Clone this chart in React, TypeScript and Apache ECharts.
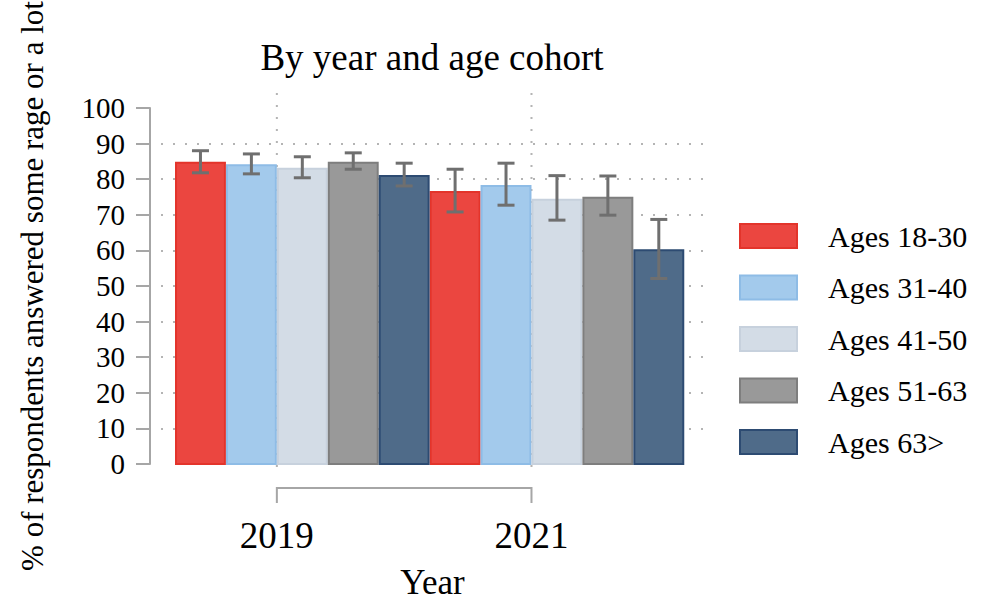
import React, { useEffect, useRef } from "react";
import * as echarts from "echarts";

// ---- data ----
const years = [2019, 2021];
const cohorts = ["Ages 18-30", "Ages 31-40", "Ages 41-50", "Ages 51-63", "Ages 63>"];

const ages18_30 = [84.9, 76.7];
const ages31_40 = [84.2, 78.4];
const ages41_50 = [83.2, 74.5];
const ages51_63 = [84.9, 75.1];
const ages63plus = [81.2, 60.3];

const ciLow18_30 = [81.8, 70.8];
const ciHigh18_30 = [88.0, 82.8];
const ciLow31_40 = [81.5, 72.7];
const ciHigh31_40 = [87.1, 84.5];
const ciLow41_50 = [80.4, 68.5];
const ciHigh41_50 = [86.3, 81.0];
const ciLow51_63 = [82.8, 69.9];
const ciHigh51_63 = [87.4, 80.9];
const ciLow63plus = [78.1, 52.1];
const ciHigh63plus = [84.5, 68.7];

const yTicks = [0, 10, 20, 30, 40, 50, 60, 70, 80, 90, 100];

const valuesByCohort = [ages18_30, ages31_40, ages41_50, ages51_63, ages63plus];
const lowsByCohort = [ciLow18_30, ciLow31_40, ciLow41_50, ciLow51_63, ciLow63plus];
const highsByCohort = [ciHigh18_30, ciHigh31_40, ciHigh41_50, ciHigh51_63, ciHigh63plus];

// ---- layout / style ----
const FONT = "'Liberation Serif', 'Times New Roman', Times, serif";
const BAR_OFFSETS = [-0.6, -0.2, 0.2, 0.6, 1.0];
const BAR_W = 0.4;
const CAP_PX = 17;
const X_AXIS_OFFSET = 24;
const fills = ["#EB4640", "#A3CAEC", "#D3DCE6", "#999999", "#4F6B89"];
const strokes = ["#E3342B", "#8EBCE6", "#C7D1DD", "#7E7E7E", "#2D4B72"];
const AXIS_GRAY = "#a6a6a6";
const GRID_GRAY = "#b4b4b4";
const ERR_GRAY = "#6f6f6f";

export default function App() {
  const ref = useRef<HTMLDivElement>(null);

  useEffect(() => {
    if (!ref.current) return;
    const chart = echarts.init(ref.current, null, { renderer: "svg" });

    const barSeries = cohorts.map((name, i) => ({
      type: "custom",
      name,
      z: 3,
      clip: false,
      encode: { x: 0, y: 1 },
      itemStyle: { color: fills[i], borderColor: strokes[i], borderWidth: 2 },
      data: years.map((yr, j) => [
        yr + BAR_OFFSETS[i],
        valuesByCohort[i][j],
        lowsByCohort[i][j],
        highsByCohort[i][j],
      ]),
      renderItem: (_params: any, api: any) => {
        const x = api.value(0);
        const v = api.value(1);
        const lo = api.value(2);
        const hi = api.value(3);
        const tl = api.coord([x - BAR_W / 2, v]);
        const br = api.coord([x + BAR_W / 2, 0]);
        const pLo = api.coord([x, lo]);
        const pHi = api.coord([x, hi]);
        const errStyle = { stroke: ERR_GRAY, lineWidth: 3 };
        return {
          type: "group",
          children: [
            {
              type: "rect",
              shape: { x: tl[0] + 1, y: tl[1] + 1, width: br[0] - tl[0] - 2, height: br[1] - tl[1] - 1 },
              style: { fill: fills[i], stroke: strokes[i], lineWidth: 2 },
            },
            {
              type: "line",
              shape: { x1: pLo[0], y1: pLo[1], x2: pHi[0], y2: pHi[1] },
              style: errStyle,
            },
            {
              type: "line",
              shape: { x1: pHi[0] - CAP_PX / 2, y1: pHi[1], x2: pHi[0] + CAP_PX / 2, y2: pHi[1] },
              style: errStyle,
            },
            {
              type: "line",
              shape: { x1: pLo[0] - CAP_PX / 2, y1: pLo[1], x2: pLo[0] + CAP_PX / 2, y2: pLo[1] },
              style: errStyle,
            },
          ],
        };
      },
    }));

    const vGridSeries = {
      type: "custom",
      name: "_vgrid",
      z: 1,
      clip: false,
      silent: true,
      encode: { x: 0, y: 1 },
      data: years.map((yr) => [yr, 0]),
      renderItem: (_params: any, api: any) => {
        const x = api.value(0);
        const top = api.coord([x, 100]);
        const bot = api.coord([x, 0]);
        return {
          type: "line",
          shape: { x1: top[0], y1: top[1] - 15, x2: bot[0], y2: bot[1] + 12 },
          style: { stroke: GRID_GRAY, lineWidth: 2, lineDash: [2, 10] },
        };
      },
    };

    const bracketSeries = {
      type: "custom",
      name: "_bracket",
      z: 1,
      clip: false,
      silent: true,
      encode: { x: 0, y: 1 },
      data: [[years[0], 0, years[years.length - 1]]],
      renderItem: (_params: any, api: any) => {
        const a = api.coord([api.value(0), 0]);
        const b = api.coord([api.value(2), 0]);
        const y = a[1] + X_AXIS_OFFSET;
        return {
          type: "polyline",
          shape: { points: [[a[0], y + 15], [a[0], y], [b[0], y], [b[0], y + 15]] },
          style: { stroke: AXIS_GRAY, lineWidth: 2, fill: "none" },
        };
      },
    };

    const option: any = {
      animation: false,
      textStyle: { fontFamily: FONT },
      title: {
        text: "By year and age cohort",
        left: 427,
        top: 34,
        textAlign: "center",
        textStyle: { fontSize: 37, fontWeight: "normal", color: "#000", fontFamily: FONT },
      },
      legend: {
        orient: "vertical",
        left: 739,
        top: 221,
        padding: 0,
        itemWidth: 57,
        itemHeight: 24,
        itemGap: 21.5,
        selectedMode: false,
        textStyle: { fontSize: 30, color: "#000", fontFamily: FONT, lineHeight: 30, padding: [0, 0, 0, 26] },
        data: cohorts.map((name, i) => ({
          name,
          icon: "rect",
          itemStyle: { color: fills[i], borderColor: strokes[i], borderWidth: 2 },
        })),
      },
      grid: { left: 161, right: 290, top: 108, bottom: 139, containLabel: false, outerBoundsMode: "none" },
      xAxis: {
        type: "value",
        min: 2018.09,
        max: 2022.355,
        offset: X_AXIS_OFFSET,
        axisLine: { show: false },
        axisTick: { show: false },
        splitLine: { show: false },
        axisLabel: {
          customValues: years,
          fontSize: 37,
          color: "#000",
          margin: 29,
          fontFamily: FONT,
          formatter: (v: number) => String(v),
        },
        name: "Year",
        nameLocation: "middle",
        nameGap: 77,
        nameTextStyle: { fontSize: 35, color: "#000", fontFamily: FONT },
      },
      yAxis: {
        type: "value",
        min: yTicks[0],
        max: yTicks[yTicks.length - 1],
        interval: yTicks[1] - yTicks[0],
        offset: 11,
        axisLine: { show: true, lineStyle: { color: AXIS_GRAY, width: 2 } },
        axisTick: { show: true, length: 14, lineStyle: { color: AXIS_GRAY, width: 2 } },
        axisLabel: { fontSize: 29, margin: 25, color: "#000", fontFamily: FONT },
        splitLine: {
          show: true,
          showMinLine: false,
          showMaxLine: false,
          lineStyle: { color: GRID_GRAY, width: 2, type: [2, 10] },
        },
        name: "% of respondents answered some rage or a lot",
        nameLocation: "middle",
        nameGap: 102,
        nameRotate: 90,
        nameTextStyle: { fontSize: 31, color: "#000", fontFamily: FONT },
      },
      series: [vGridSeries, bracketSeries, ...barSeries],
    };

    chart.setOption(option);
    return () => chart.dispose();
  }, []);

  return (
    <div
      ref={ref}
      style={{ position: "fixed", left: 0, top: 0, width: 994, height: 603, background: "#fff" }}
    />
  );
}
